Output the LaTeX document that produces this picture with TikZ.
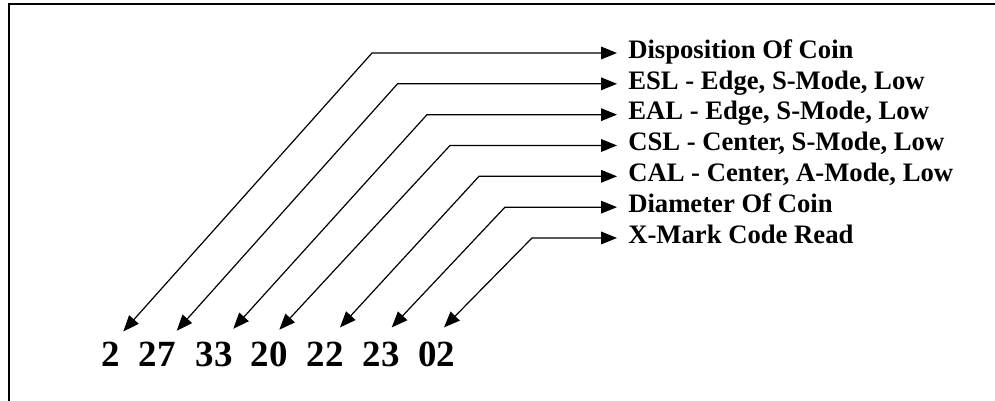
\documentclass[tikz,border=0pt]{standalone}
\usepackage{fontspec}
\setmainfont{Liberation Serif}
\usetikzlibrary{arrows.meta,positioning}

\begin{document}
\begin{tikzpicture}[x=0.75pt,y=-0.75pt,
  lbl/.style={anchor=base west,inner xsep=8.25pt,inner ysep=0pt,text height=13pt,text depth=5pt,font=\fontsize{20}{24}\selectfont\bfseries},
  num/.style={anchor=base,inner sep=0pt,text height=18.75pt,text depth=0pt,font=\fontsize{27.7}{32}\selectfont\bfseries},
  link/.style={line width=0.9pt,{Triangle[length=12pt,width=9.5pt]}-{Triangle[length=12pt,width=9.5pt]}}]
\useasboundingbox (0,0) rectangle (995,400);
\clip (0,0) rectangle (995,400);
\draw[line width=1.5pt] (8.5,4.3) rectangle (1010,410);
% field names on the right
\foreach \t [count=\i] in {Disposition Of Coin,{ESL - Edge, S-Mode, Low},{EAL - Edge, S-Mode, Low},
    {CSL - Center, S-Mode, Low},{CAL - Center, A-Mode, Low},Diameter Of Coin,X-Mark Code Read}
  \node[lbl] (l\i) at (617,27.5+30.83*\i) {\t};
% the code digits
\foreach \n/\x [count=\i] in {2/111,27/157,33/214,20/269,22/325,23/381,02/436.7}
  \node[num] (n\i) at (\x,366.7) {\n};
% bend x, then tip offset from the digits
\foreach \bx/\dx/\dy [count=\i] in {372/12.3/-10,397.5/19.7/-10.7,427/19.3/-12.7,450/10.3/-11.7,
    479/15/-14,505/10.7/-14,532/7.3/-14}{
  \coordinate (k\i) at (\bx,0);
  \draw[link] ([shift={(\dx,\dy)}]n\i.north) -- (l\i.west -| k\i) -- (l\i.west);
}
\end{tikzpicture}
\end{document}
